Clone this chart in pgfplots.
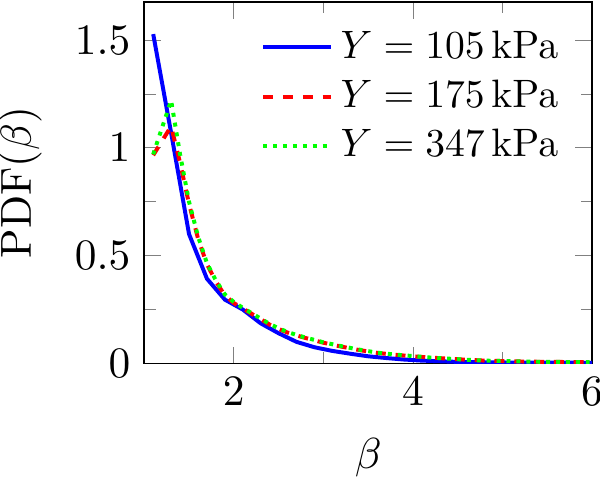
\documentclass[border=0pt]{standalone}
\usepackage{pgfplots}
\pgfplotsset{compat=1.18}
\begin{document}
\begin{tikzpicture}
\begin{axis}[
  scale only axis,
  width=113pt, height=91.2pt,
  xmin=1, xmax=6, ymin=0, ymax=1.677,
  xtick={2,4,6}, ytick={0,0.5,1,1.5},
  minor tick num=1,
  tick label style={font=\fontsize{10.95}{13.6}\selectfont},
  label style={font=\fontsize{10.95}{13.6}\selectfont},
  xlabel={$\beta$}, ylabel={$\mathrm{PDF}(\beta)$},
  xlabel shift=1.5pt, ylabel shift=1.5pt,
  legend style={draw=none, fill=none, at={(0.97,0.967)}, anchor=north east, font=\fontsize{10}{12}\selectfont},
  legend cell align=left,
]
\addplot[blue, line width=1pt] coordinates {
(1.1,1.528) (1.3,1.07) (1.5,0.60) (1.7,0.393) (1.9,0.296) (2.1,0.250)
(2.3,0.186) (2.5,0.14) (2.7,0.100) (2.9,0.075) (3.1,0.058) (3.3,0.045)
(3.5,0.033) (3.7,0.025) (3.9,0.018) (4.1,0.013) (4.3,0.010) (4.5,0.007)
(4.7,0.006) (4.9,0.005) (5.1,0.004) (5.5,0.004) (6.0,0.003)};
\addlegendentry{$Y=105\,\mathrm{kPa}$}
\addplot[red, line width=1pt, dash pattern=on 2.5pt off 2.5pt] coordinates {
(1.1,0.966) (1.3,1.10) (1.4,0.93) (1.5,0.74) (1.6,0.58) (1.7,0.46)
(1.8,0.38) (1.9,0.315) (2.0,0.28) (2.1,0.255) (2.2,0.23) (2.3,0.205)
(2.4,0.18) (2.5,0.16) (2.6,0.143) (2.7,0.13) (2.8,0.118) (2.9,0.107)
(3.0,0.096) (3.2,0.078) (3.4,0.062) (3.6,0.049) (3.8,0.040) (4.0,0.033)
(4.2,0.027) (4.4,0.022) (4.6,0.017) (4.8,0.013) (5.0,0.011) (5.2,0.009)
(5.5,0.007) (6.0,0.006)};
\addlegendentry{$Y=175\,\mathrm{kPa}$}
\addplot[green, line width=1pt, dash pattern=on 1pt off 1.5pt] coordinates {
(1.1,0.97) (1.3,1.22) (1.4,0.97) (1.5,0.75) (1.6,0.59) (1.7,0.465)
(1.8,0.385) (1.9,0.32) (2.0,0.285) (2.1,0.258) (2.2,0.233) (2.3,0.208)
(2.4,0.183) (2.5,0.163) (2.6,0.146) (2.7,0.132) (2.8,0.12) (2.9,0.109)
(3.0,0.098) (3.2,0.080) (3.4,0.064) (3.6,0.050) (3.8,0.041) (4.0,0.034)
(4.2,0.027) (4.4,0.022) (4.6,0.017) (4.8,0.013) (5.0,0.011) (5.2,0.009)
(5.5,0.007) (6.0,0.006)};
\addlegendentry{$Y=347\,\mathrm{kPa}$}
\end{axis}
\pgfresetboundingbox
\path ([xshift=-36.4pt,yshift=-28.5pt]current axis.south west) rectangle ([xshift=2pt,yshift=0.5pt]current axis.north east);
\end{tikzpicture}
\end{document}
